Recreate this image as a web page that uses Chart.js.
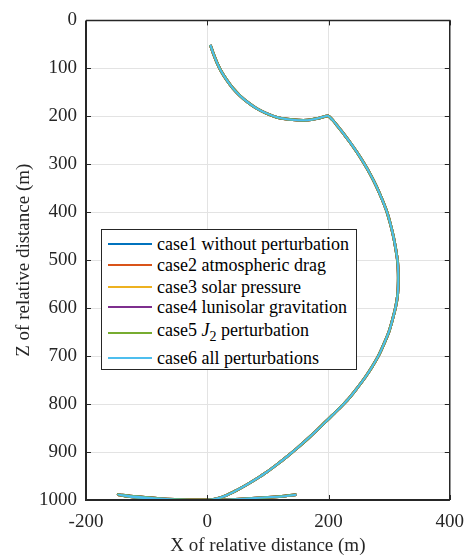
<!DOCTYPE html>
<html lang="en">
<head>
<meta charset="utf-8">
<style>
  html, body { margin: 0; padding: 0; background: #ffffff; }
  #wrap { position: relative; width: 475px; height: 557px; }
  #legend {
    position: absolute; left: 101px; top: 229px; width: 254px; height: 139px;
    border: 1px solid #262626; background: #ffffff; font-size: 18px; color: #000;
  }
  .row { position: absolute; left: 0; height: 20px; white-space: nowrap; }
  .sw { position: absolute; left: 6px; width: 44px; height: 2px; }
  .lbl { position: absolute; left: 55px; line-height: 20px; }
  .lbl sub { font-size: 14px; vertical-align: -5px; line-height: 0; }
</style>
<script src="https://cdn.jsdelivr.net/npm/chart.js@4.4.0/dist/chart.umd.min.js"></script>
</head>
<body>
<div id="wrap">
  <canvas id="c" width="475" height="557"></canvas>
  <div id="legend"></div>
</div>
<script>
// ---- data ----
const caseLabels = [
  'case1 without perturbation',
  'case2 atmospheric drag',
  'case3 solar pressure',
  'case4 lunisolar gravitation',
  'case5 J_2 perturbation',
  'case6 all perturbations'
];
const caseColors = ['#0072BD', '#D95319', '#EDB120', '#7E2F8E', '#77AC30', '#4DBEEE'];

// relative distance X (m) along the trajectory
const xRel = [5, 10, 16, 23, 32, 42, 54, 67, 82, 98, 115, 132, 150, 165, 180, 192, 199,
  207, 216, 226, 236, 247, 258, 269, 279, 288, 296, 302, 307, 311, 314, 315, 315, 314,
  311, 306, 300, 292, 283, 272, 260, 247, 233, 217, 200, 183, 166, 149, 132, 115, 98,
  81, 64, 48, 32, 16, 0, -27, -54, -80, -107, -127, -147, -127, -107, -80, -54,
  -27, 0, 27, 54, 80, 107, 127, 147];
// relative distance Z (m) along the trajectory
const zRel = [51, 69, 88, 106, 124, 141, 157, 171, 184, 194, 202, 206, 208, 208, 205, 201, 199,
  208, 222, 238, 255, 275, 297, 321, 346, 372, 398, 424, 450, 477, 503, 526, 548, 572,
  596, 622, 648, 673, 698, 722, 745, 767, 789, 810, 831, 852, 872, 891, 909, 926, 942,
  956, 969, 980, 990, 997, 1000, 1000, 999, 997, 994, 992, 989, 993, 996, 999, 1001,
  1001, 1001, 1000, 998, 996, 994, 992, 989];

// ---- axis ticks ----
const xTicks = [-200, 0, 200, 400];
const zTicks = [0, 100, 200, 300, 400, 500, 600, 700, 800, 900, 1000];

const FONT = "'Times New Roman'";
Chart.defaults.font.family = FONT;
Chart.defaults.font.size = 19;
Chart.defaults.color = '#262626';

function trajectory() {
  return xRel.map((x, i) => ({ x: x, y: zRel[i] }));
}

const datasets = caseLabels.map((lab, i) => ({
  label: lab,
  data: trajectory(),
  borderColor: caseColors[i],
  backgroundColor: caseColors[i],
  borderWidth: i === 5 ? 2 : 2.8,
  order: 5 - i,
  showLine: true,
  pointRadius: 0,
  tension: 0.3,
  fill: false
}));

const framePlugin = {
  id: 'frame',
  afterDatasetsDraw(chart) {
    const { ctx, chartArea: a, scales } = chart;
    ctx.save();
    ctx.strokeStyle = '#262626';
    ctx.lineWidth = 1;
    const tl = 5;
    ctx.beginPath();
    scales.x.ticks.forEach(t => {
      const px = Math.round(scales.x.getPixelForValue(t.value)) + 0.5;
      ctx.moveTo(px, a.bottom); ctx.lineTo(px, a.bottom - tl);
      ctx.moveTo(px, a.top); ctx.lineTo(px, a.top + tl);
    });
    scales.y.ticks.forEach(t => {
      const py = Math.round(scales.y.getPixelForValue(t.value)) + 0.5;
      ctx.moveTo(a.left, py); ctx.lineTo(a.left + tl, py);
      ctx.moveTo(a.right, py); ctx.lineTo(a.right - tl, py);
    });
    ctx.stroke();
    ctx.lineWidth = 2;
    ctx.beginPath();
    ctx.moveTo(a.left, a.top); ctx.lineTo(a.left, a.bottom); ctx.lineTo(a.right, a.bottom);
    ctx.stroke();
    ctx.lineWidth = 1.5;
    ctx.beginPath();
    ctx.moveTo(a.left, a.top); ctx.lineTo(a.right, a.top); ctx.lineTo(a.right, a.bottom);
    ctx.stroke();
    ctx.restore();
  }
};

const tickFont = () => ({ family: FONT, size: 19 });

const chart = new Chart(document.getElementById('c'), {
  type: 'scatter',
  data: { datasets: datasets },
  options: {
    responsive: false,
    animation: false,
    devicePixelRatio: 1,
    font: { family: FONT, size: 19 },
    layout: { padding: { top: 17, right: 16, bottom: 0, left: 0 } },
    plugins: { legend: { display: false }, tooltip: { enabled: false } },
    scales: {
      x: {
        type: 'linear', min: -200, max: 400,
        afterBuildTicks: s => { s.ticks = xTicks.map(v => ({ value: v })); },
        afterFit: s => { s.height = 57; },
        ticks: { font: tickFont, color: '#262626', padding: 11, maxRotation: 0,
                 callback: v => String(v) },
        grid: { color: '#e3e3e3', lineWidth: 1, drawTicks: false },
        border: { display: false },
        title: { display: true, text: 'X of relative distance (m)', color: '#262626',
                 font: { family: FONT, size: 19 }, padding: { top: 0, bottom: 0 } }
      },
      y: {
        type: 'linear', min: 0, max: 1000, reverse: true,
        afterBuildTicks: s => { s.ticks = zTicks.map(v => ({ value: v })); },
        afterFit: s => { s.width = 86; },
        ticks: { font: tickFont, color: '#262626', padding: 9,
                 callback: v => String(v) },
        grid: { color: '#e3e3e3', lineWidth: 1, drawTicks: false },
        border: { display: false },
        title: { display: true, text: 'Z of relative distance (m)', color: '#262626',
                 font: { family: FONT, size: 19 }, padding: { top: 13, bottom: 0 } }
      }
    }
  },
  plugins: [framePlugin]
});

const lg = document.getElementById('legend');
const rowTops = [4, 25, 47, 67, 90, 118];
chart.data.datasets.forEach((ds, i) => {
  const row = document.createElement('div');
  row.className = 'row';
  row.style.top = rowTops[i] + 'px';
  const sw = document.createElement('div');
  sw.className = 'sw';
  sw.style.background = ds.borderColor;
  sw.style.top = (i === 4 ? 12 : 9) + 'px';
  const lbl = document.createElement('div');
  lbl.className = 'lbl';
  lbl.style.fontFamily = FONT;
  lbl.innerHTML = ds.label.replace('J_2', '<i>J</i><sub>2</sub>');
  row.appendChild(sw); row.appendChild(lbl);
  lg.appendChild(row);
});
</script>
</body>
</html>
